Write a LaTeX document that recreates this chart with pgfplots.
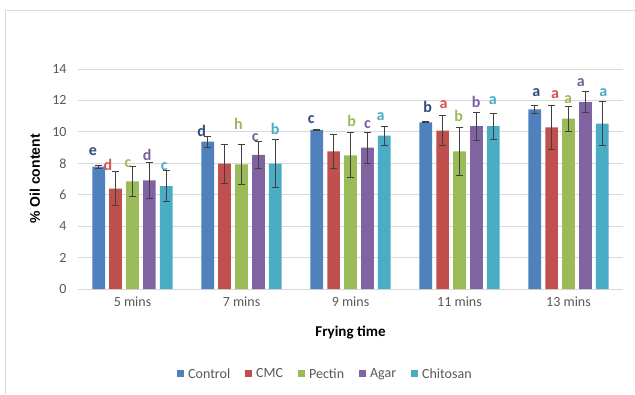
\documentclass[border=0pt]{standalone}
\usepackage{fontspec}
\setmainfont{Carlito}
\newfontfamily\arialfont{Liberation Sans}
\usepackage{pgfplots}
\pgfplotsset{compat=1.18}
\definecolor{cCtrl}{HTML}{4F81BD}
\definecolor{cCMC}{HTML}{C0504D}
\definecolor{cPec}{HTML}{9BBB59}
\definecolor{cAgar}{HTML}{8064A2}
\definecolor{cChi}{HTML}{4BACC6}
\definecolor{lCtrl}{HTML}{2E4A7E}
\definecolor{lCMC}{HTML}{D9534F}
\definecolor{lPec}{HTML}{9BBB59}
\definecolor{lAgar}{HTML}{7A5FA0}
\definecolor{lChi}{HTML}{4BACC6}
\definecolor{gridgray}{HTML}{D9D9D9}
\definecolor{tickgray}{HTML}{595959}
\definecolor{errgray}{HTML}{404040}
\pgfplotsset{sqlegend/.style={legend image code/.code={\fill[##1,draw=none] (0pt,-3.5pt) rectangle (7pt,3.5pt);}}}
\begin{document}
\begin{tikzpicture}
\useasboundingbox (-78pt,-105pt) rectangle (557pt,289pt);
\fill[white] (-78pt,-105pt) rectangle (557pt,289pt);
\draw[gridgray, line width=0.8pt] (-73pt,-105pt) -- (-73pt,279pt) -- (557pt,279pt);
\begin{axis}[
  at={(0pt,0pt)}, anchor=south west,
  scale only axis, width=545pt, height=220pt,
  ybar=4.2pt, bar width=12.7pt,
  xmin=-0.5, xmax=4.5, ymin=0, ymax=14,
  ytick={0,2,...,14},
  xtick={0,1,2,3,4},
  xticklabels={5 mins,7 mins,9 mins,11 mins,13 mins},
  axis line style={draw=none},
  major tick length=0pt,
  ymajorgrids, grid style={color=gridgray, line width=0.8pt},
  tick label style={font=\fontsize{14}{16}\selectfont, text=tickgray},
  /pgf/number format/assume math mode=true,
  yticklabel style={xshift=-8pt},
  xticklabel style={yshift=-4pt},
  xlabel={Frying time},
  xlabel style={font=\bfseries\fontsize{15}{17}\selectfont, at={(axis description cs:0.5,-0.197)}, anchor=center},
  ylabel={\% Oil content},
  ylabel style={font=\arialfont\bfseries\fontsize{14}{16}\selectfont, at={(axis description cs:-0.079,0.5)}, anchor=center},
  legend style={at={(axis description cs:0.454,-0.386)}, anchor=center, draw=none, fill=none,
    font=\fontsize{14}{16}\selectfont, text=tickgray,
    /tikz/every even column/.append style={column sep=13pt},
    /tikz/every odd column/.append style={column sep=2pt}},
  legend columns=-1,
  error bars/y dir=both, error bars/y explicit,
  error bars/error bar style={line width=0.8pt, color=errgray},
  error bars/error mark options={rotate=90, mark size=3.6pt, line width=0.8pt, color=errgray},
]
\addplot[fill=cCtrl, draw=none, sqlegend] coordinates {(0,7.79) +- (0,0.10) (1,9.38) +- (0,0.36) (2,10.12) +- (0,0.05) (3,10.61) +- (0,0.03) (4,11.43) +- (0,0.24)};
\addplot[fill=cCMC, draw=none, sqlegend] coordinates {(0,6.39) +- (0,1.08) (1,7.98) +- (0,1.23) (2,8.76) +- (0,1.08) (3,10.08) +- (0,0.94) (4,10.29) +- (0,1.41)};
\addplot[fill=cPec, draw=none, sqlegend] coordinates {(0,6.85) +- (0,0.95) (1,7.93) +- (0,1.30) (2,8.51) +- (0,1.43) (3,8.76) +- (0,1.55) (4,10.84) +- (0,0.81)};
\addplot[fill=cAgar, draw=none, sqlegend] coordinates {(0,6.92) +- (0,1.13) (1,8.53) +- (0,0.88) (2,9.00) +- (0,0.98) (3,10.37) +- (0,0.89) (4,11.90) +- (0,0.68)};
\addplot[fill=cChi, draw=none, sqlegend] coordinates {(0,6.55) +- (0,0.97) (1,7.98) +- (0,1.54) (2,9.76) +- (0,0.59) (3,10.37) +- (0,0.82) (4,10.52) +- (0,1.39)};
\legend{Control,CMC,Pectin,Agar,Chitosan}
\tikzset{lab/.style={font=\bfseries\fontsize{16}{18}\selectfont, inner sep=0pt, anchor=center}}
% 5 mins
\node[lab, text=lCtrl] at (axis cs:-0.363,8.74) {e};
\node[lab, text=lCMC]  at (axis cs:-0.225,7.89) {d};
\node[lab, text=lPec]  at (axis cs:-0.041,8.00) {c};
\node[lab, text=lAgar] at (axis cs:0.134,8.53) {d};
\node[lab, text=lChi]  at (axis cs:0.291,7.79) {c};
% 7 mins
\node[lab, text=lCtrl] at (axis cs:0.635,10.06) {d};
\node[lab, text=lPec]  at (axis cs:0.972,10.50) {h};
\node[lab, text=lAgar] at (axis cs:1.126,9.65) {c};
\node[lab, text=lChi]  at (axis cs:1.310,10.16) {b};
% 9 mins
\node[lab, text=lCtrl] at (axis cs:1.639,10.80) {c};
\node[lab, text=lPec]  at (axis cs:2.010,10.70) {b};
\node[lab, text=lAgar] at (axis cs:2.155,10.44) {c};
\node[lab, text=lChi]  at (axis cs:2.277,10.97) {a};
% 11 mins
\node[lab, text=lCtrl] at (axis cs:2.707,11.57) {b};
\node[lab, text=lCMC]  at (axis cs:2.855,11.76) {a};
\node[lab, text=lPec]  at (axis cs:2.993,11.00) {b};
\node[lab, text=lAgar] at (axis cs:3.152,11.92) {b};
\node[lab, text=lChi]  at (axis cs:3.306,11.99) {a};
% 13 mins
\node[lab, text=lCtrl] at (axis cs:3.704,12.50) {a};
\node[lab, text=lCMC]  at (axis cs:3.877,12.39) {a};
\node[lab, text=lPec]  at (axis cs:3.996,12.07) {a};
\node[lab, text=lAgar] at (axis cs:4.112,13.16) {a};
\node[lab, text=lChi]  at (axis cs:4.319,12.52) {a};
\end{axis}
\end{tikzpicture}
\end{document}
